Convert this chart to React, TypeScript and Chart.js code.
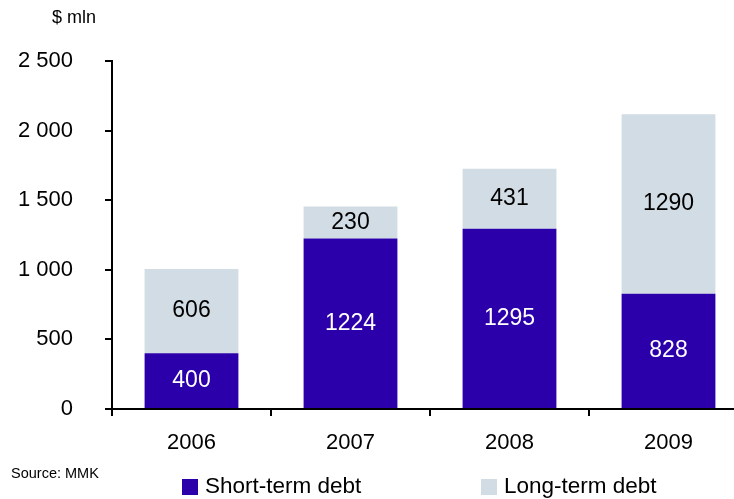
import React, { useEffect, useRef } from "react";
import { Chart, registerables } from "chart.js";

Chart.register(...registerables);

const categories = ["2006", "2007", "2008", "2009"];
const shortTermDebt = [400, 1224, 1295, 828];
const longTermDebt = [606, 230, 431, 1290];
const yTickValues = [0, 500, 1000, 1500, 2000, 2500];
const seriesNames = ["Short-term debt", "Long-term debt"];
const unitLabel = "$ mln";
const sourceLabel = "Source: MMK";

const FONT = "'Liberation Sans', Arial, sans-serif";
const SHORT_COLOR = "#2B00AA";
const LONG_COLOR = "#D1DCE4";

const formatTick = (v: number) =>
  String(v).replace(/\B(?=(\d{3})+(?!\d))/g, " ");

const labelsPlugin = {
  id: "barLabels",
  afterDatasetsDraw(chart: any) {
    const ctx = chart.ctx;
    ctx.save();
    ctx.font = `23px ${FONT}`;
    ctx.textAlign = "center";
    ctx.textBaseline = "middle";
    chart.data.datasets.forEach((ds: any, di: number) => {
      const meta = chart.getDatasetMeta(di);
      meta.data.forEach((el: any, i: number) => {
        const y = (el.y + el.base) / 2;
        ctx.fillStyle = di === 0 ? "#FFFFFF" : "#000000";
        ctx.fillText(String(ds.data[i]), el.x, y);
      });
    });
    ctx.restore();
  },
};

const decorPlugin = {
  id: "decor",
  afterDraw(chart: any) {
    const ctx = chart.ctx;
    ctx.save();
    ctx.fillStyle = "#000";
    ctx.textBaseline = "middle";
    ctx.textAlign = "left";
    ctx.font = `18px ${FONT}`;
    ctx.fillText(unitLabel, 52, 18);
    ctx.font = `14.5px ${FONT}`;
    ctx.fillText(sourceLabel, 11, 474);
    // legend
    const items = [
      { x: 182, color: SHORT_COLOR, text: seriesNames[0] },
      { x: 481, color: LONG_COLOR, text: seriesNames[1] },
    ];
    ctx.font = `22.5px ${FONT}`;
    items.forEach((it) => {
      ctx.fillStyle = it.color;
      ctx.fillRect(it.x, 479, 16, 16);
      ctx.fillStyle = "#000";
      ctx.fillText(it.text, it.x + 23, 487);
    });
    ctx.restore();
  },
};

export default function App() {
  const ref = useRef<HTMLCanvasElement | null>(null);
  useEffect(() => {
    if (!ref.current) return;
    const chart = new Chart(ref.current, {
      type: "bar",
      data: {
        labels: categories,
        datasets: [
          {
            label: seriesNames[0],
            data: shortTermDebt,
            backgroundColor: SHORT_COLOR,
            barPercentage: 0.59,
            categoryPercentage: 1,
          },
          {
            label: seriesNames[1],
            data: longTermDebt,
            backgroundColor: LONG_COLOR,
            barPercentage: 0.59,
            categoryPercentage: 1,
          },
        ],
      },
      options: {
        animation: false,
        responsive: false,
        maintainAspectRatio: false,
        layout: { padding: { top: 61, right: 12, left: 0, bottom: 0 } },
        plugins: { legend: { display: false }, tooltip: { enabled: false } },
        scales: {
          x: {
            stacked: true,
            afterFit: (s: any) => {
              s.height = 90;
            },
            grid: {
              offset: true,
              drawOnChartArea: false,
              drawTicks: true,
              tickLength: 7,
              color: "#000",
              lineWidth: 2,
            },
            border: { display: true, color: "#000", width: 2 },
            ticks: {
              color: "#000",
              font: { family: FONT, size: 22 },
              padding: 14,
            },
          },
          y: {
            stacked: true,
            min: 0,
            max: 2500,
            afterFit: (s: any) => {
              s.width = 112;
            },
            afterBuildTicks: (s: any) => {
              s.ticks = yTickValues.map((v) => ({ value: v }));
            },
            grid: {
              drawOnChartArea: false,
              drawTicks: true,
              tickLength: 7,
              color: "#000",
              lineWidth: 2,
            },
            border: { display: true, color: "#000", width: 2 },
            ticks: {
              color: "#000",
              font: { family: FONT, size: 22 },
              padding: 32,
              callback: (v: any) => formatTick(Number(v)),
            },
          },
        },
      },
      plugins: [labelsPlugin, decorPlugin],
    });
    return () => chart.destroy();
  }, []);
  return (
    <div
      style={{
        position: "absolute",
        left: 0,
        top: 0,
        width: 734,
        height: 499,
        overflow: "hidden",
        background: "#fff",
      }}
    >
      <canvas ref={ref} width={760} height={499} style={{ display: "block" }} />
    </div>
  );
}
